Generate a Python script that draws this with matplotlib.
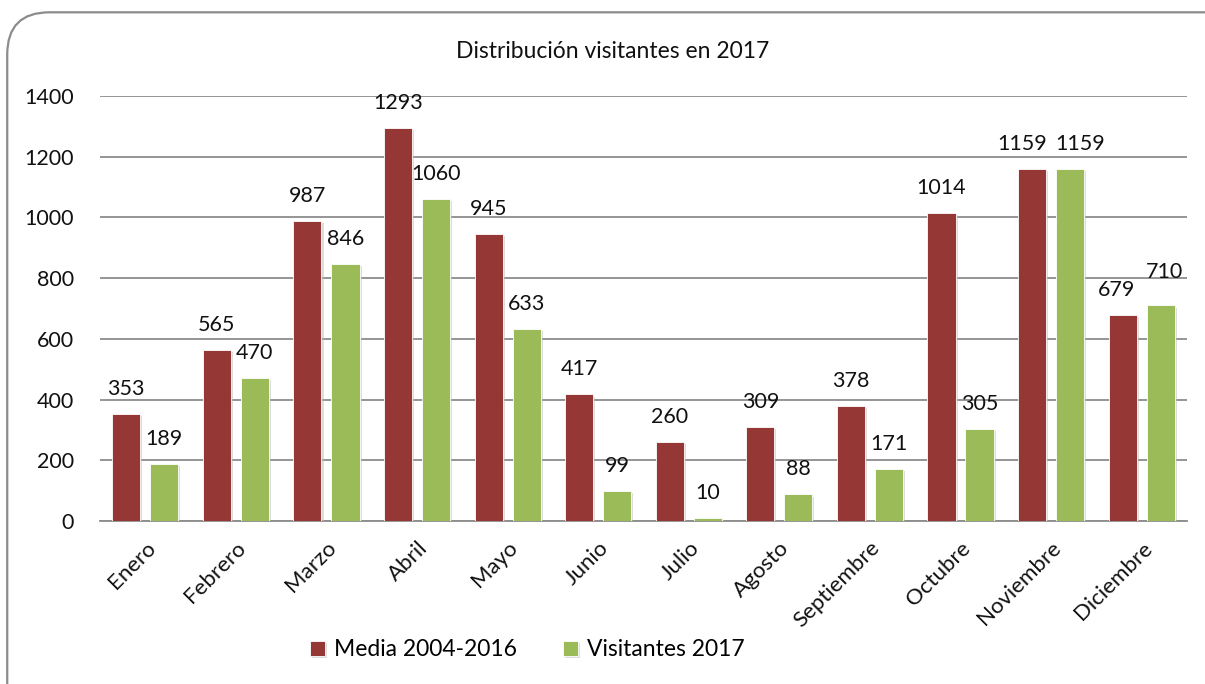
import numpy as np
import matplotlib
matplotlib.use("Agg")
from matplotlib import pyplot as plt
from matplotlib.patches import FancyBboxPatch
import matplotlib.patheffects as pe

meses = ['Enero', 'Febrero', 'Marzo', 'Abril', 'Mayo', 'Junio', 'Julio',
         'Agosto', 'Septiembre', 'Octubre', 'Noviembre', 'Diciembre']
media = [353, 565, 987, 1293, 945, 417, 260, 309, 378, 1014, 1159, 679]
visitantes = [189, 470, 846, 1060, 633, 99, 10, 88, 171, 305, 1159, 710]

plt.rcParams['font.family'] = ['Lato', 'DejaVu Sans']

fig = plt.figure(figsize=(12.05, 6.84), dpi=100)
ax = fig.add_axes([0.083, 0.238, 0.902, 0.622])

# marco redondeado como en excel
frame = FancyBboxPatch((0.006, -0.2), 1.2, 1.182, transform=fig.transFigure,
                       boxstyle="round,pad=0,rounding_size=0.035",
                       fc='none', ec='#8c8c8c', lw=1.6, mutation_aspect=1205 / 684)
fig.patches.append(frame)

x = np.arange(len(meses))
w = 0.31
off = 0.21
shadow = [pe.SimplePatchShadow(offset=(1.5, -1.5), shadow_rgbFace='#bbbbbb', alpha=0.5), pe.Normal()]

b1 = ax.bar(x - off, media, w, color='#953735', label='Media 2004-2016', zorder=3,
            edgecolor='#ffffff', linewidth=0.6, path_effects=shadow)
b2 = ax.bar(x + off, visitantes, w, color='#9bbb59', label='Visitantes 2017', zorder=3,
            edgecolor='#ffffff', linewidth=0.6, path_effects=shadow)

# ajustes de etiquetas solapadas (en puntos)
nudge = {(0, 10): (-7, 0), (1, 10): (7, 0), (0, 11): (-4, 0), (1, 11): (3, 6)}
for k, bars in enumerate((b1, b2)):
    for i, r in enumerate(bars):
        h = r.get_height()
        dx, dy = nudge.get((k, i), (0, 0))
        ax.annotate(str(int(h)), (r.get_x() + r.get_width() / 2, h),
                    xytext=(dx, 18 + dy), textcoords='offset points',
                    ha='center', va='center', fontsize=15.5, color='#111111')

ax.set_ylim(0, 1400)
ax.set_xlim(-0.5, len(meses) - 0.5)
ax.set_yticks(np.arange(0, 1401, 200))
ax.yaxis.grid(True, color='#8c8c8c', lw=1.3, zorder=0)
ax.set_axisbelow(True)
for s in ['left', 'right', 'top']:
    ax.spines[s].set_visible(False)
ax.spines['bottom'].set_color('#8c8c8c')
ax.spines['bottom'].set_linewidth(1.3)
ax.tick_params(axis='y', length=0, pad=19, labelsize=15.5, labelcolor='#111111')
ax.tick_params(axis='x', length=0, pad=12, labelsize=16, labelcolor='#111111')
ax.set_xticks(x)
ax.set_xticklabels(meses, rotation=45, ha='right', rotation_mode='anchor')

fig.text(0.508, 0.924, 'Distribución visitantes en 2017', ha='center', va='center',
         fontsize=16.5, color='#111111')

fig.legend(handles=[b1, b2], loc='center', bbox_to_anchor=(527 / 1205, 1 - 650 / 684),
           ncol=2, frameon=False, fontsize=16.5, handlelength=0.65, handleheight=0.65,
           handletextpad=0.4, columnspacing=2.0)

plt.savefig('out.png', dpi=100)
